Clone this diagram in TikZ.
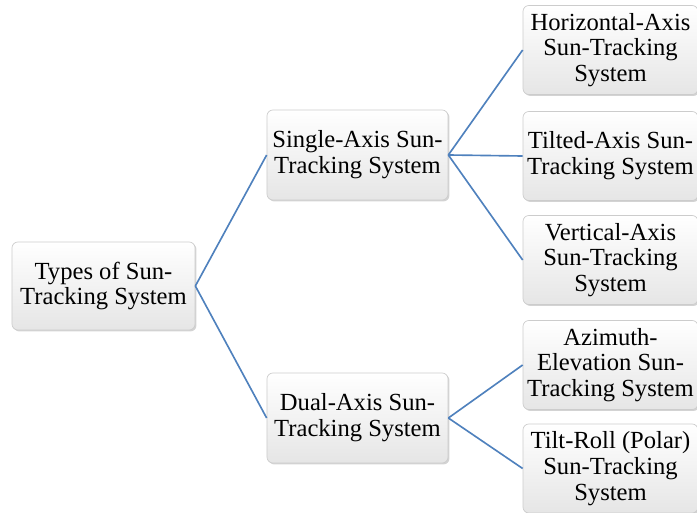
\documentclass[tikz,border=0pt]{standalone}
\usepackage{fontspec}
\setmainfont{Liberation Serif}
\usetikzlibrary{shadows}
\definecolor{linkblue}{RGB}{79,129,189}

\begin{document}
\begin{tikzpicture}[x = 0.03cm, y = -0.03cm,
	box/.style = {draw = gray!40, line width = 0.6pt, rounded corners = 5pt, top color = white, bottom color = gray!20,
		drop shadow = {shadow xshift = 1.2pt, shadow yshift = -1.2pt, opacity = 0.35},
		align = center, inner sep = 2pt, font = \rmfamily\fontsize{21}{22}\selectfont},
	rootbox/.style = {box, minimum width = 5.49cm, minimum height = 2.64cm},
	midbox/.style = {box, minimum width = 5.43cm, minimum height = 2.7cm},
	leafbox/.style = {box, minimum width = 5.25cm, minimum height = 2.67cm},
	link/.style = {draw = linkblue, line width = 1.4pt}]
					\useasboundingbox (0,0) rectangle (697,513);
					\node[rootbox] (T) at (103.5,286) {Types of Sun-\\Tracking System};
					\node[midbox] (S) at (357.5,155) {Single-Axis Sun-\\Tracking System};
					\node[midbox] (D) at (357.5,418) {Dual-Axis Sun-\\Tracking System};
					\node[leafbox] (H) at (610.5,50) {Horizontal-Axis\\Sun-Tracking\\System};
					\node[leafbox] (I) at (610.5,156) {Tilted-Axis Sun-\\Tracking System};
					\node[leafbox] (V) at (610.5,260) {Vertical-Axis\\Sun-Tracking\\System};
					\node[leafbox] (A) at (610.5,365) {Azimuth-\\Elevation Sun-\\Tracking System};
					\node[leafbox] (P) at (610.5,468.5) {Tilt-Roll (Polar)\\Sun-Tracking\\System};
					\draw[link] (T.east) -- (S.west) (T.east) -- (D.west);
					\draw[link] (S.east) -- (H.west) (S.east) -- (I.west) (S.east) -- (V.west);
					\draw[link] (D.east) -- (A.west) (D.east) -- (P.west);
				\end{tikzpicture}
\end{document}
